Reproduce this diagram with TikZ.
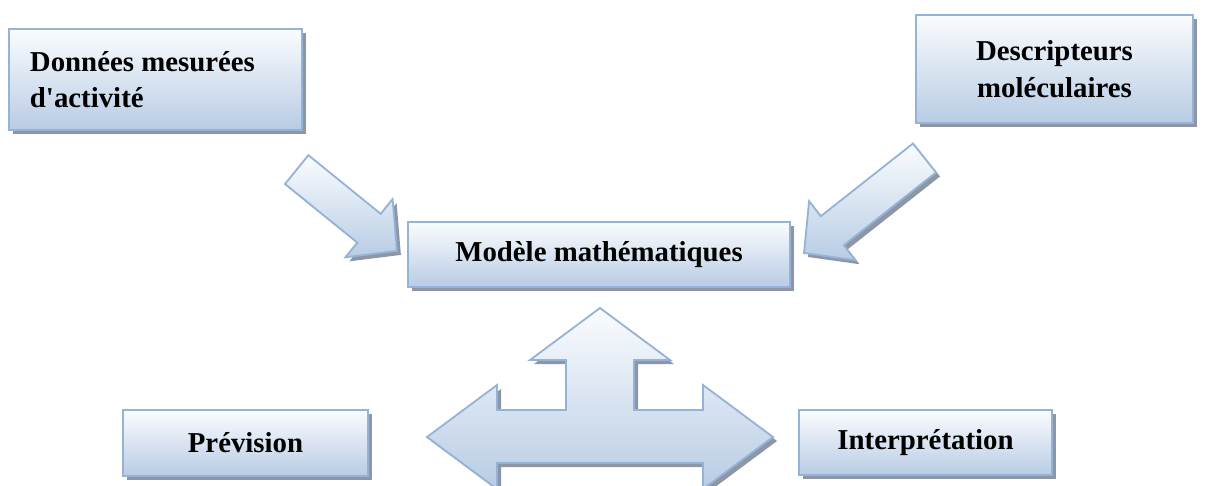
\documentclass[tikz,border=0pt]{standalone}
\usepackage{fontspec}
\setmainfont{Liberation Serif}
\usetikzlibrary{shadows}
\definecolor{bordbleu}{RGB}{149,179,215}
\definecolor{hautbleu}{RGB}{250,252,254}
\definecolor{basbleu}{RGB}{184,204,228}
\definecolor{ombre}{RGB}{140,150,165}
\tikzset{
  boite/.style={draw=bordbleu, line width=1.3pt, top color=hautbleu, bottom color=basbleu,
    drop shadow={shadow xshift=3pt, shadow yshift=-3pt, fill=ombre, opacity=1},
    font=\bfseries\fontsize{20.5}{26}\selectfont, inner sep=0pt},
  fleche/.style={draw=bordbleu, line width=1.3pt, line join=miter, top color=hautbleu, bottom color=basbleu},
  flecheombre/.style={fill=ombre, shift={(4,4)}}
}
\begin{document}
\begin{tikzpicture}[x=0.025cm,y=-0.025cm]
			%%%%% START %%%%%
			\clip (0,0) rectangle (1205,486);
			
			\node[boite, minimum width=7.325cm, minimum height=2.525cm, text width=6.275cm, align=flush left] (donnees) at (155.5,79.5) {Donn\'ees mesur\'ees\\d\textquotesingle activit\'e};
			\node[boite, minimum width=6.925cm, minimum height=2.7cm, align=center] (descr) at (1054.5,69) {Descripteurs\\mol\'eculaires};
			\node[boite, minimum width=9.55cm, minimum height=1.625cm] (modele) at (599,254.5) {Mod\`ele math\'ematiques};
			\node[boite, minimum width=6.125cm, minimum height=1.65cm] (prevision) at (245.5,443) {Pr\'evision};
			\node[boite, minimum width=6.325cm, minimum height=1.625cm] (interp) at (925.5,442.5) {Interpr\'etation};
			
			% fleche gauche
			\fill[flecheombre] (308.4,155.2) -- (380.7,213.8) -- (392.6,199.1) -- (396.9,250.9) -- (345.4,257.3) -- (357.3,242.6) -- (285.0,184.0) -- cycle;
			\draw[fleche] (308.4,155.2) -- (380.7,213.8) -- (392.6,199.1) -- (396.9,250.9) -- (345.4,257.3) -- (357.3,242.6) -- (285.0,184.0) -- cycle;
			
			% fleche droite
			\fill[flecheombre] (913.0,143.5) -- (820.8,216.2) -- (809.1,201.2) -- (804,253) -- (855.5,260.2) -- (843.8,245.2) -- (936.0,172.5) -- cycle;
			\draw[fleche] (913.0,143.5) -- (820.8,216.2) -- (809.1,201.2) -- (804,253) -- (855.5,260.2) -- (843.8,245.2) -- (936.0,172.5) -- cycle;
			
			% fleche triple
			\fill[flecheombre] (600,308) -- (670,360) -- (634,360) -- (634,410) -- (703,410) -- (703,385) -- (773,437) -- (703,489) -- (703,463) -- (497,463) -- (497,489) -- (427,437) -- (497,385) -- (497,410) -- (566,410) -- (566,360) -- (530,360) -- cycle;
			\draw[fleche] (600,308) -- (670,360) -- (634,360) -- (634,410) -- (703,410) -- (703,385) -- (773,437) -- (703,489) -- (703,463) -- (497,463) -- (497,489) -- (427,437) -- (497,385) -- (497,410) -- (566,410) -- (566,360) -- (530,360) -- cycle;
			
			%%%%% END %%%%%
\end{tikzpicture}
\end{document}
